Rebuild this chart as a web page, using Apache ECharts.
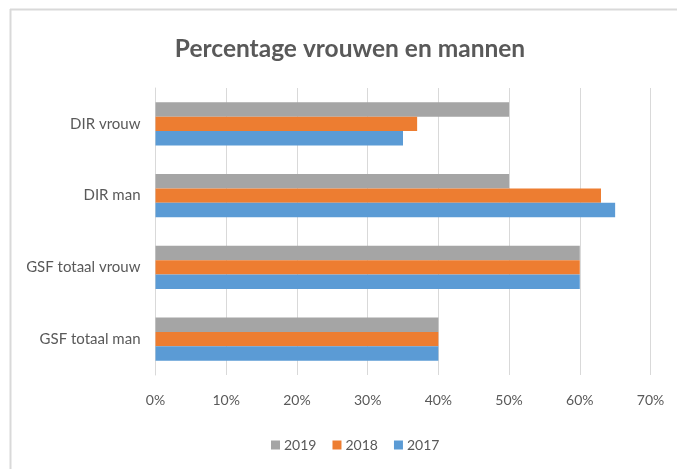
<!DOCTYPE html>
<html>
<head>
<meta charset="utf-8">
<script src="https://cdn.jsdelivr.net/npm/echarts@6/dist/echarts.min.js"></script>
<style>html,body{margin:0;padding:0;background:#fff;}#c{width:677px;height:469px;}</style>
</head>
<body>
<div id="c"></div>
<script>
const categories = ['GSF totaal man', 'GSF totaal vrouw', 'DIR man', 'DIR vrouw'];
const values2017 = [40, 60, 65, 35];
const values2018 = [40, 60, 63, 37];
const values2019 = [40, 60, 50, 50];
const xTicks = [0, 10, 20, 30, 40, 50, 60, 70];

const FONT = 'Lato';
const chart = echarts.init(document.getElementById('c'));
chart.setOption({
  animation: false,
  backgroundColor: '#fff',
  title: {
    text: 'Percentage vrouwen en mannen',
    left: 345, top: 32, textAlign: 'center',
    textStyle: { fontFamily: FONT, fontSize: 24.5, fontWeight: 'bold', color: '#595959' }
  },
  graphic: [
    { type: 'line', shape: { x1: 10, y1: 9.5, x2: 677, y2: 9.5 }, style: { stroke: '#d9d9d9', lineWidth: 2 } },
    { type: 'line', shape: { x1: 10.5, y1: 9, x2: 10.5, y2: 469 }, style: { stroke: '#d9d9d9', lineWidth: 2 } }
  ],
  legend: {
    data: ['2019', '2018', '2017'],
    left: 266, top: 433,
    itemWidth: 9, itemHeight: 9, itemGap: 16,
    icon: 'rect',
    textStyle: { fontFamily: FONT, fontSize: 14, color: '#595959', padding: [0, 0, 0, -1] }
  },
  grid: { left: 155.5, right: 26.5, top: 88, bottom: 94 },
  xAxis: {
    type: 'value', min: xTicks[0], max: xTicks[xTicks.length - 1], interval: 10,
    axisLine: { show: false }, axisTick: { show: false },
    splitLine: { lineStyle: { color: '#d9d9d9', width: 1 } },
    axisLabel: { formatter: '{value}%', margin: 18, fontFamily: FONT, fontSize: 14, color: '#595959' }
  },
  yAxis: {
    type: 'category', data: categories,
    axisLine: { lineStyle: { color: '#d9d9d9', width: 1 } },
    axisTick: { show: false },
    axisLabel: { margin: 15, fontFamily: FONT, fontSize: 15, color: '#595959' }
  },
  series: [
    { name: '2019', type: 'bar', data: values2019, barWidth: '20%', barGap: '0%', itemStyle: { color: '#A5A5A5' } },
    { name: '2018', type: 'bar', data: values2018, barWidth: '20%', barGap: '0%', itemStyle: { color: '#ED7D31' } },
    { name: '2017', type: 'bar', data: values2017, barWidth: '20%', barGap: '0%', itemStyle: { color: '#5B9BD5' } }
  ]
});
</script>
</body>
</html>
